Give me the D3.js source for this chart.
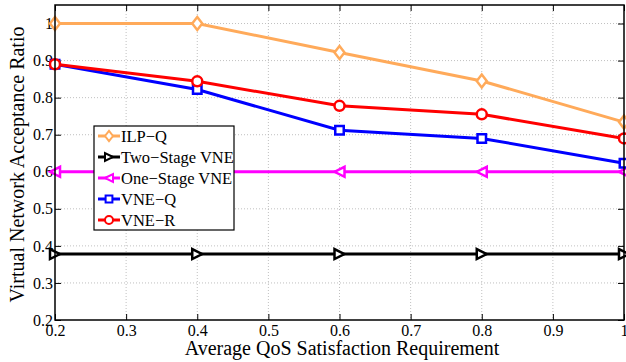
<!DOCTYPE html>
<html>
<head>
<meta charset="utf-8">
<script src="https://cdn.jsdelivr.net/npm/d3@7"></script>
<style>
  html, body { margin: 0; padding: 0; background: #fff; }
  svg { display: block; }
  svg text { font-family: "Liberation Serif", "Times New Roman", serif; }
</style>
</head>
<body>
<svg id="chart" width="626" height="362"></svg>
<script>
// QoS satisfaction requirement levels (x axis)
const qosLevels = [0.2, 0.4, 0.6, 0.8, 1.0];

// Acceptance ratio for each embedding scheme
const ilpQ      = [1.0, 1.0, 0.922, 0.845, 0.734];
const twoStage  = [0.378, 0.378, 0.378, 0.378, 0.378];
const oneStage  = [0.6, 0.6, 0.6, 0.6, 0.6];
const vneQ      = [0.89, 0.822, 0.712, 0.69, 0.623];
const vneR      = [0.89, 0.844, 0.778, 0.755, 0.69];

const seriesNames  = ["ILP\u2212Q", "Two\u2212Stage VNE", "One\u2212Stage VNE", "VNE\u2212Q", "VNE\u2212R"];
const seriesValues = [ilpQ, twoStage, oneStage, vneQ, vneR];
const seriesColors = ["#ffaa5a", "#000000", "#ff00ff", "#0000ff", "#ff0000"];
const seriesMarks  = ["diamond", "triRight", "triLeft", "square", "circle"];

const xTicks = [0.2, 0.3, 0.4, 0.5, 0.6, 0.7, 0.8, 0.9, 1];
const yTicks = [0.2, 0.3, 0.4, 0.5, 0.6, 0.7, 0.8, 0.9, 1];

const SERIF = "Liberation Serif, Times New Roman, serif";
const svg = d3.select("#chart");
const plot = { left: 55, right: 624, top: 5, bottom: 320 };

const x = d3.scaleLinear().domain([0.2, 1.0]).range([plot.left, plot.right]);
const y = d3.scaleLinear().domain([0.2, 1.05]).range([plot.bottom, plot.top]);

const fmt = d => (d === 1 ? "1" : d3.format(".1f")(d));

// Dotted grid
const grid = svg.append("g").attr("stroke", "#b0b0b0").attr("stroke-width", 0.8)
  .attr("stroke-dasharray", "1,2");
grid.selectAll("line.gx").data(xTicks.slice(1, -1)).join("line")
  .attr("x1", d => x(d)).attr("x2", d => x(d))
  .attr("y1", plot.top).attr("y2", plot.bottom);
grid.selectAll("line.gy").data(yTicks.slice(1)).join("line")
  .attr("x1", plot.left).attr("x2", plot.right)
  .attr("y1", d => y(d)).attr("y2", d => y(d));

// Axes with inward ticks
const tickLen = 6;
const xAxisB = d3.axisBottom(x).tickValues(xTicks).tickSize(-tickLen).tickPadding(5).tickFormat(fmt);
const xAxisT = d3.axisTop(x).tickValues(xTicks).tickSize(-tickLen).tickFormat("");
const yAxisL = d3.axisLeft(y).tickValues(yTicks).tickSize(-tickLen).tickPadding(4).tickFormat(fmt);
const yAxisR = d3.axisRight(y).tickValues(yTicks).tickSize(-tickLen).tickFormat("");

function styleAxis(g) {
  g.attr("font-family", SERIF).attr("font-size", 16);
  g.select(".domain").remove();
  g.selectAll(".tick line").attr("stroke", "#000").attr("stroke-width", 1);
  g.selectAll(".tick text").attr("fill", "#000");
}
svg.append("g").attr("transform", `translate(0,${plot.bottom})`).call(xAxisB).call(styleAxis);
svg.append("g").attr("transform", `translate(0,${plot.top})`).call(xAxisT).call(styleAxis);
svg.append("g").attr("transform", `translate(${plot.left},0)`).call(yAxisL).call(styleAxis)
  .selectAll(".tick text").attr("x", -2);
svg.append("g").attr("transform", `translate(${plot.right},0)`).call(yAxisR).call(styleAxis);

// Marker path generator
function markerPath(kind, s) {
  switch (kind) {
    case "diamond": return `M0,${-s*1.3}L${s},0L0,${s*1.3}L${-s},0Z`;
    case "triRight": return `M${s},0L${-s},${-s}L${-s},${s}Z`;
    case "triLeft": return `M${-s},0L${s},${-s}L${s},${s}Z`;
    case "square": return `M${-s*0.85},${-s*0.85}H${s*0.85}V${s*0.85}H${-s*0.85}Z`;
    default: return d3.symbol(d3.symbolCircle, Math.PI * s * s)();
  }
}

// Series lines and markers
const line = d3.line().x((d, i) => x(qosLevels[i])).y(d => y(d));
seriesValues.forEach((vals, k) => {
  const g = svg.append("g");
  g.append("path").datum(vals).attr("d", line)
    .attr("fill", "none").attr("stroke", seriesColors[k]).attr("stroke-width", 3);
  g.selectAll("path.m").data(vals).join("path").attr("class", "m")
    .attr("transform", (d, i) => `translate(${x(qosLevels[i])},${y(d)})`)
    .attr("d", markerPath(seriesMarks[k], 5))
    .attr("fill", "#fff").attr("stroke", seriesColors[k]).attr("stroke-width", 2.5);
});

// Plot frame
svg.append("rect").attr("x", plot.left).attr("y", plot.top)
  .attr("width", plot.right - plot.left).attr("height", plot.bottom - plot.top)
  .attr("fill", "none").attr("stroke", "#000").attr("stroke-width", 1.5);

// Legend
const leg = svg.append("g").attr("transform", "translate(94,126)");
leg.append("rect").attr("width", 140).attr("height", 104)
  .attr("fill", "#fff").attr("stroke", "#000").attr("stroke-width", 1.2);
seriesNames.forEach((name, k) => {
  const cy = 10 + k * 21;
  const row = leg.append("g").attr("transform", `translate(0,${cy})`);
  row.append("line").attr("x1", 4).attr("x2", 26).attr("y1", 0).attr("y2", 0)
    .attr("stroke", seriesColors[k]).attr("stroke-width", 3);
  row.append("path").attr("transform", "translate(15,0)")
    .attr("d", markerPath(seriesMarks[k], 4))
    .attr("fill", "#fff").attr("stroke", seriesColors[k]).attr("stroke-width", 2);
  row.append("text").attr("x", 27).attr("y", 5.5).text(name)
    .attr("font-family", SERIF).attr("font-size", 16.5).attr("fill", "#000");
});

// Axis titles
svg.append("text").attr("x", 342).attr("y", 355)
  .attr("text-anchor", "middle").attr("font-family", SERIF).attr("font-size", 20)
  .text("Average QoS Satisfaction Requirement");
svg.append("text").attr("transform", `translate(24,${(plot.top + plot.bottom) / 2 + 2}) rotate(-90)`)
  .attr("text-anchor", "middle").attr("font-family", SERIF).attr("font-size", 20)
  .text("Virtual Network Acceptance Ratio");
</script>
</body>
</html>
